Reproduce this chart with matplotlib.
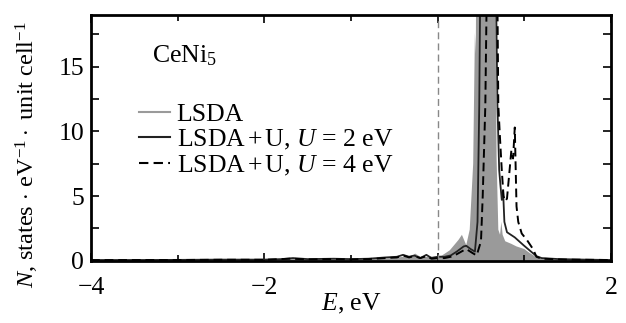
import numpy as np
import matplotlib.pyplot as plt
from matplotlib.lines import Line2D
from matplotlib.ticker import MultipleLocator

plt.rcParams['font.family'] = ['Liberation Serif', 'DejaVu Serif']
plt.rcParams['mathtext.fontset'] = 'custom'
plt.rcParams['mathtext.rm'] = 'Liberation Serif'
plt.rcParams['mathtext.it'] = 'Liberation Serif:italic'
plt.rcParams['font.size'] = 18.5

# LSDA (grey filled)
e_lsda = [-4, -3.5, -3, -2.5, -2, -1.7, -1.5, -1.2, -1.0, -0.8, -0.5, -0.4, -0.3, -0.26, -0.2,
          -0.1, 0.0, 0.05, 0.14, 0.24, 0.28, 0.33, 0.37, 0.41, 0.43, 0.44, 0.45, 0.66, 0.68,
          0.70, 0.72, 0.735, 0.75, 0.78, 0.85, 0.91, 1.0, 1.06, 1.12, 1.18, 1.3, 1.5, 2.0]
n_lsda = [0.03, 0.04, 0.05, 0.06, 0.08, 0.15, 0.12, 0.12, 0.08, 0.12, 0.2, 0.3, 0.25, 0.55, 0.3,
          0.3, 0.35, 0.4, 0.8, 1.6, 2.0, 1.2, 2.4, 7.5, 17.6, 16.0, 28, 28, 8.0,
          2.4, 2.0, 3.0, 2.0, 1.5, 1.3, 1.1, 0.9, 0.6, 0.35, 0.2, 0.1, 0.06, 0.03]

# LSDA+U, U = 2 eV
e_u2 = [-4, -3.5, -3, -2.5, -2, -1.8, -1.67, -1.5, -1.2, -1.0, -0.8, -0.6, -0.47, -0.4, -0.33,
        -0.27, -0.2, -0.13, -0.07, 0.0, 0.08, 0.15, 0.22, 0.30, 0.33, 0.38, 0.43, 0.46, 0.48,
        0.50, 0.66, 0.69, 0.71, 0.725, 0.74, 0.755, 0.77, 0.80, 0.89, 0.99, 1.06, 1.14, 1.2,
        1.4, 1.7, 2.0]
n_u2 = [0.05, 0.05, 0.06, 0.08, 0.08, 0.12, 0.2, 0.12, 0.15, 0.12, 0.15, 0.25, 0.3, 0.45, 0.3,
        0.4, 0.2, 0.45, 0.2, 0.3, 0.3, 0.4, 0.7, 1.1, 1.15, 0.9, 0.7, 3.0, 12,
        28, 28, 12, 7.0, 5.8, 4.7, 5.4, 3.0, 2.2, 1.8, 1.2, 0.8, 0.35, 0.2,
        0.12, 0.08, 0.05]

# LSDA+U, U = 4 eV
e_u4 = [-4, -3.5, -3, -2.5, -2, -1.7, -1.5, -1.2, -1.0, -0.8, -0.6, -0.47, -0.4, -0.33, -0.27,
        -0.2, -0.13, -0.07, 0.0, 0.08, 0.15, 0.22, 0.30, 0.33, 0.40, 0.45, 0.50, 0.52, 0.55,
        0.58, 0.68, 0.70, 0.72, 0.74, 0.76, 0.78, 0.80, 0.83, 0.85, 0.87, 0.89, 0.91, 0.93,
        0.97, 1.03, 1.10, 1.14, 1.2, 1.5, 2.0]
n_u4 = [0.04, 0.05, 0.05, 0.07, 0.07, 0.15, 0.1, 0.12, 0.1, 0.12, 0.2, 0.25, 0.4, 0.25, 0.35,
        0.2, 0.35, 0.15, 0.2, 0.2, 0.3, 0.5, 0.8, 0.9, 0.6, 0.4, 1.5, 5.0, 12,
        28, 28, 12, 9.4, 7.0, 5.0, 4.6, 4.8, 7.0, 8.5, 7.9, 10.3, 4.2, 3.0,
        2.1, 1.6, 0.9, 0.3, 0.15, 0.08, 0.05]

fig = plt.figure(figsize=(6.26, 3.23), dpi=100)
ax = fig.add_axes([0.1454, 0.193, 0.8306, 0.7606])

grey = '#9a9a9a'
ax.fill_between(e_lsda, n_lsda, color=grey, lw=0)
ax.plot(e_u2, n_u2, color='#222222', lw=1.3)
ax.plot(e_u4, n_u4, color='black', lw=1.4, ls=(0, (4.5, 2.5)))
ax.axvline(0, color='#888888', lw=1.0, ls=(0, (5, 3)))

ax.set_xlim(-4, 2)
ax.set_ylim(0, 19)
ax.xaxis.set_major_locator(MultipleLocator(2))
ax.xaxis.set_minor_locator(MultipleLocator(1))
ax.yaxis.set_major_locator(MultipleLocator(5))
ax.yaxis.set_minor_locator(MultipleLocator(2.5))
ax.tick_params(which='both', direction='in', top=True, right=True, width=1.2)
ax.tick_params(which='major', length=6)
ax.tick_params(which='minor', length=4)
ax.tick_params(axis='y', which='minor', length=6)
ax.tick_params(axis='x', pad=12)
ax.tick_params(axis='y', pad=5)
for s in ax.spines.values():
    s.set_linewidth(2)

ax.set_xlabel(r'$E$, eV', labelpad=-5)
ax.set_ylabel(r'$N$, states$\,\cdot\,$eV$^{-1}\cdot$ unit cell$^{-1}$', fontsize=17.5)
ax.yaxis.set_label_coords(-0.097, 0.43)

ax.text(0.118, 0.835, r'CeNi$_5$', transform=ax.transAxes, va='center')

handles = [Line2D([], [], color=grey, lw=1.5),
           Line2D([], [], color='#222222', lw=1.5),
           Line2D([], [], color='black', lw=1.5, ls=(0, (4.5, 2.5)))]
labels = ['LSDA',
          r'LSDA$\,$+$\,$U, $U$ = 2 eV',
          r'LSDA$\,$+$\,$U, $U$ = 4 eV']
ax.legend(handles, labels, loc='upper left', bbox_to_anchor=(0.073, 0.685), frameon=False,
          handlelength=1.2, handletextpad=0.25, labelspacing=0.08, borderaxespad=0)

fig.savefig('out.png', dpi=100)
